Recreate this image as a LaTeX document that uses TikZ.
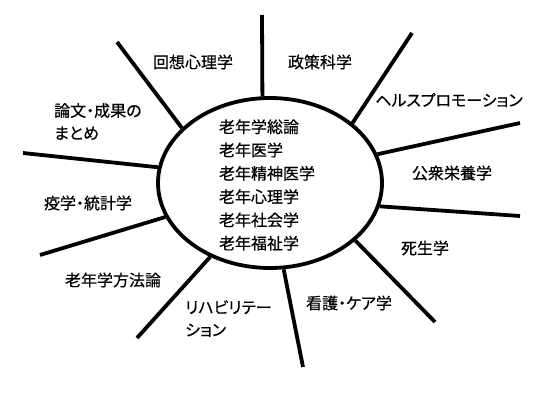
\documentclass[tikz,border=0pt]{standalone}
\usepackage{fontspec}
\newfontfamily\jp[RawFeature=+palt, FakeBold=0.5]{Noto Sans CJK JP}
\usetikzlibrary{shapes.geometric}
\begin{document}
\begin{tikzpicture}[x=1pt,y=-1pt,
  spoke/.style={line width=3.8pt},
  lbl/.style={font=\jp\fontsize{16}{22.5}\selectfont, inner sep=0pt},
  mlbl/.style={lbl, align=left, anchor=north west}]
\useasboundingbox[fill=white] (0,0) rectangle (560,409);
\node[ellipse, draw, line width=3.8pt, minimum width=224pt, minimum height=170pt, inner sep=0pt] (ell) at (270,183) {};
\node[lbl, align=left] (core) at (267,185) {老年学総論\\[0.8pt]老年医学\\[0.8pt]老年精神医学\\[0.8pt]老年心理学\\[0.8pt]老年社会学\\[0.8pt]老年福祉学};
% outer ends
\coordinate (o1) at (262,15);
\coordinate (o2) at (117,42);
\coordinate (o3) at (23,153);
\coordinate (o4) at (412,33);
\coordinate (o5) at (520,123);
\coordinate (o6) at (520,216);
\coordinate (o7) at (435,322);
\coordinate (o8) at (303,367);
\coordinate (o9) at (137,338);
\coordinate (o10) at (40,255);
\draw[spoke] (o1) -- (ell.95.4);
\draw[spoke] (o2) -- (ell.148);
\draw[spoke] (o3) -- (ell.172);
\draw[spoke] (o4) -- (ell.36.3);
\draw[spoke] (o5) -- (ell.15.7);
\draw[spoke] (o6) -- (ell.-12.6);
\draw[spoke] (o7) -- (ell.-34.5);
\draw[spoke] (o8) -- (ell.-81.5);
\draw[spoke] (o9) -- (ell.231.3);
\draw[spoke] (o10) -- (ell.198.9);
% labels
\node[lbl] (l1) at (193,62) {回想心理学};
\node[lbl] (l2) at (320,62) {政策科学};
\node[lbl] (l3) at (449,100) {ヘルスプロモーション};
\node[mlbl] (l4) at (54,103) {論文・成果の\\まとめ};
\node[lbl] (l5) at (452,173) {公衆栄養学};
\node[lbl] (l6) at (88,203) {疫学・統計学};
\node[lbl] (l7) at (425,248) {死生学};
\node[lbl] (l8) at (113,280) {老年学方法論};
\node[mlbl] (l9) at (185,300) {リハビリテー\\ション};
\node[lbl] (l10) at (349,303) {看護・ケア学};
\end{tikzpicture}
\end{document}
